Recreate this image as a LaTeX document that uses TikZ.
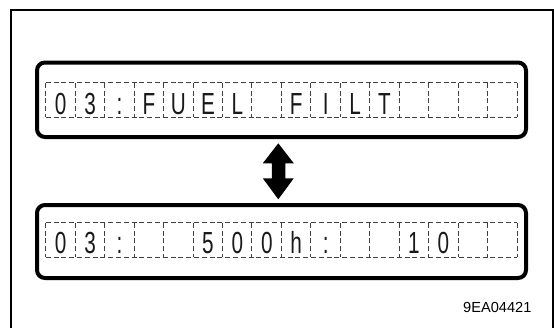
\documentclass[tikz,border=0pt]{standalone}
\usepackage{fontspec}
\setmainfont{Liberation Sans}
\usetikzlibrary{calc}
\tikzset{
  panel/.style={draw=black, line width=4pt, rounded corners=8pt, minimum width=489pt, inner sep=0pt},
  cellbox/.style={minimum width=29.44pt, minimum height=34pt, inner sep=0pt},
  grid/.style={draw=black!75, line width=0.9pt, dash pattern=on 5pt off 2.8pt},
  lcd/.style={font=\fontsize{30.5}{30.5}\selectfont, inner sep=0pt, anchor=base, text=black!90},
  tag/.style={font=\fontsize{14.6}{14.6}\selectfont, inner sep=0pt, anchor=base west},
}
\newcommand{\lcdch}[1]{\scalebox{0.68}[1]{#1}}
\begin{document}
\begin{tikzpicture}[x=1pt,y=-1pt]
\useasboundingbox (0,0) rectangle (554,327);
\draw[line width=1.2pt] (11,10) rectangle (553,335);
\node[panel, minimum height=74.5pt] (toppanel) at (281.5,99.75) {};
\node[panel, minimum height=73pt] (botpanel) at (281.5,241.5) {};
% top row
\foreach \c [count=\i] in {0,3,:,F,U,E,L,{},F,I,L,T,{},{},{},{}} {
  \node[cellbox] (t\i) at ({46+29.44*(\i-0.5)},100) {};
  \node[lcd] (tc\i) at ($(t\i.south)+(0,-2.7)$) {\lcdch{\c}};
}
\foreach \c [count=\i] in {0,3,:,{},{},5,0,0,h,:,{},{},1,0,{},{}} {
  \node[cellbox] (b\i) at ({46+29.44*(\i-0.5)},240) {};
  \node[lcd] (bc\i) at ($(b\i.south)+(0,-3.7)$) {\lcdch{\c}};
}
\foreach \r in {t,b} {
  \draw[grid] (\r1.north west) -- (\r16.north east);
  \draw[grid] (\r1.south west) -- (\r16.south east);
  \foreach \i in {1,...,16} {
    \draw[grid] (\r\i.north west) -- (\r\i.south west);
  }
  \draw[grid] (\r16.north east) -- (\r16.south east);
}
% double arrow
\coordinate (atop) at (278.3,143.3);
\coordinate (abot) at (278.3,199.3);
\fill[black] (atop) -- ++(15.5,20) -- ++(-8.5,0) -- ++(0,15) -- ++(8.5,0)
  -- (abot) -- ++(-15.5,-21) -- ++(9,0) -- ++(0,-15) -- ++(-9,0) -- cycle;
\node[tag] (code) at (463,312) {9EA04421};
\end{tikzpicture}
\end{document}
